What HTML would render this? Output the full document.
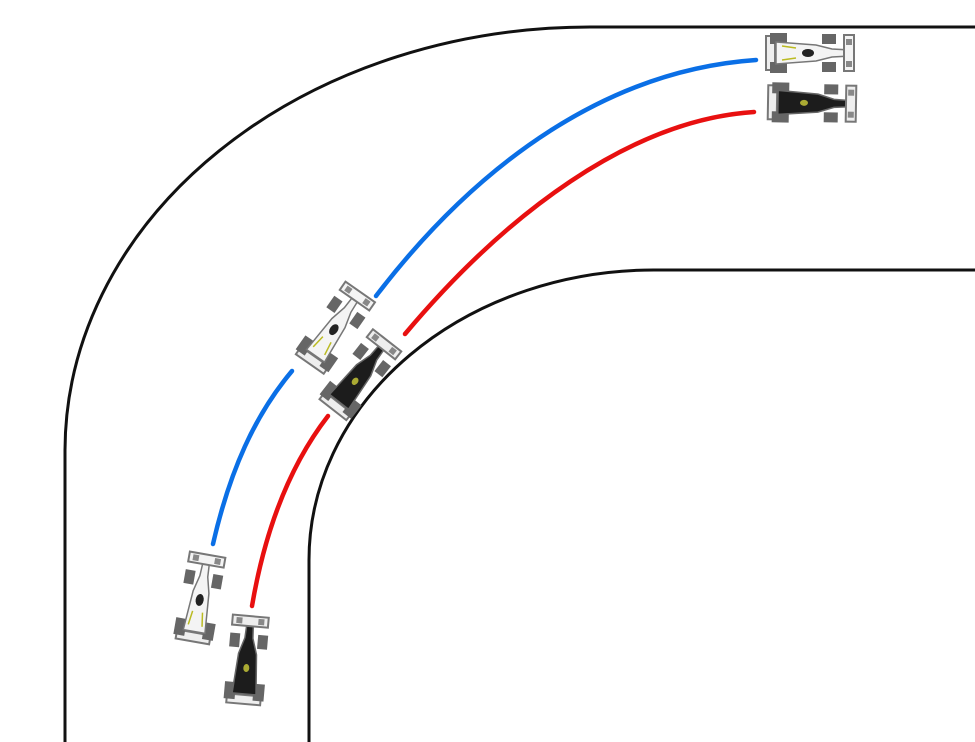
<!DOCTYPE html>
<html><head><meta charset="utf-8"><style>html,body{margin:0;padding:0;background:#fff}svg{display:block}</style></head>
<body>
<svg width="975" height="742" viewBox="0 0 975 742" xmlns="http://www.w3.org/2000/svg">
<defs>
<g id="wcar">
  <rect x="-44" y="-17" width="9" height="34" fill="#eee" stroke="#777" stroke-width="2"/>
  <rect x="-40" y="-20" width="17" height="11" fill="#666"/>
  <rect x="-40" y="9" width="17" height="11" fill="#666"/>
  <path d="M-34,-11 L6,-8 L22,-4 L40,-3 L40,3 L22,4 L6,8 L-34,11 Z" fill="#f4f4f4" stroke="#777" stroke-width="1.5"/>
  <ellipse cx="-2" cy="0" rx="6" ry="4" fill="#222"/>
  <path d="M-28,-7 L-14,-5 M-28,7 L-14,5" stroke="#bb2" stroke-width="1.5"/>
  <rect x="12" y="-19" width="14" height="10" fill="#666"/>
  <rect x="12" y="9" width="14" height="10" fill="#666"/>
  <rect x="34" y="-18" width="10" height="36" fill="#f4f4f4" stroke="#777" stroke-width="2"/>
  <rect x="36" y="-14" width="6" height="6" fill="#888"/>
  <rect x="36" y="8" width="6" height="6" fill="#888"/>
</g>
<g id="bcar">
  <rect x="-44" y="-17" width="9" height="34" fill="#eee" stroke="#777" stroke-width="2"/>
  <rect x="-40" y="-20" width="17" height="11" fill="#666"/>
  <rect x="-40" y="9" width="17" height="11" fill="#666"/>
  <path d="M-34,-12 L6,-9 L22,-4 L40,-3 L40,3 L22,4 L6,9 L-34,12 Z" fill="#1c1c1c" stroke="#666" stroke-width="1.5"/>
  <ellipse cx="-8" cy="0" rx="4" ry="3" fill="#aa3"/>
  <rect x="12" y="-19" width="14" height="10" fill="#666"/>
  <rect x="12" y="9" width="14" height="10" fill="#666"/>
  <rect x="34" y="-18" width="10" height="36" fill="#eee" stroke="#777" stroke-width="2"/>
  <rect x="36" y="-14" width="6" height="6" fill="#888"/>
  <rect x="36" y="8" width="6" height="6" fill="#888"/>
</g>
</defs>
<g fill="none" stroke="#111" stroke-width="3">
  <path d="M65,742 L65,450 A525,424 0 0 1 590,27 L975,27"/>
  <path d="M309,742 L309,560 A345,290 0 0 1 654,270 L975,270"/>
</g>
<g fill="none" stroke-width="4.5" stroke-linecap="round">
  <path d="M213,544 C230,470 255,415 292,371" stroke="#0a6fe6"/>
  <path d="M376,296 C480,160 610,70 756,60" stroke="#0a6fe6"/>
  <path d="M252,606 C265,530 290,465 328,416" stroke="#e81010"/>
  <path d="M405,334 C505,215 630,120 754,112" stroke="#e81010"/>
</g>
<use href="#wcar" transform="translate(810,53)"/>
<use href="#bcar" transform="translate(812,103) rotate(1)"/>
<use href="#wcar" transform="translate(335,328) rotate(-55)"/>
<use href="#bcar" transform="translate(360,375) rotate(-52)"/>
<use href="#wcar" transform="translate(200,598) rotate(-80)"/>
<use href="#bcar" transform="translate(247,660) rotate(-85)"/>
</svg>
</body></html>
